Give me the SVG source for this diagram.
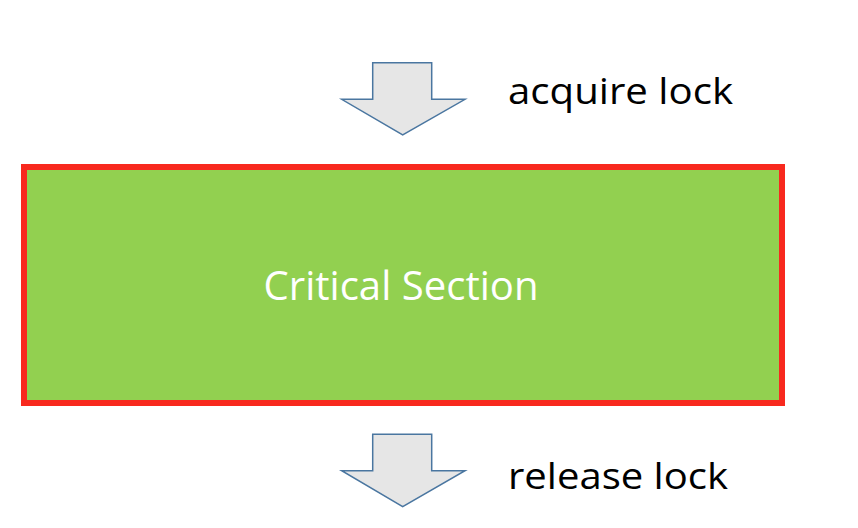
<svg xmlns="http://www.w3.org/2000/svg" width="858" height="528" viewBox="0 0 858 528">
<style>
.arrow{fill:#E6E6E6;stroke:#4A76A0;stroke-width:1.5;stroke-linejoin:miter}
.lbl{font-family:"Open Sans","Liberation Sans",sans-serif;font-size:36px;fill:#000}
.title{font-family:"Open Sans","Liberation Sans",sans-serif;font-size:41px;fill:#fff}
</style>
<rect width="858" height="528" fill="#fff"/>
<g id="critical-section">
<rect x="24" y="167" width="758" height="236" fill="#92D050" stroke="#F8291E" stroke-width="6"/>
<text class="title" x="401" y="300" text-anchor="middle" textLength="275" lengthAdjust="spacingAndGlyphs">Critical Section</text>
</g>
<g id="connectors">
<g id="acquire">
<path class="arrow" d="M372.7,62.7 H431.7 V99.3 H465 L402.7,135 L341.7,99.3 H372.7 Z"/>
<text class="lbl" x="508" y="104" textLength="225" lengthAdjust="spacingAndGlyphs">acquire lock</text>
</g>
<g id="release">
<path class="arrow" d="M372.7,434.3 H431.7 V470.7 H465 L402.7,506.7 L341.7,470.7 H372.7 Z"/>
<text class="lbl" x="508" y="489" textLength="220" lengthAdjust="spacingAndGlyphs">release lock</text>
</g>
</g>
</svg>
